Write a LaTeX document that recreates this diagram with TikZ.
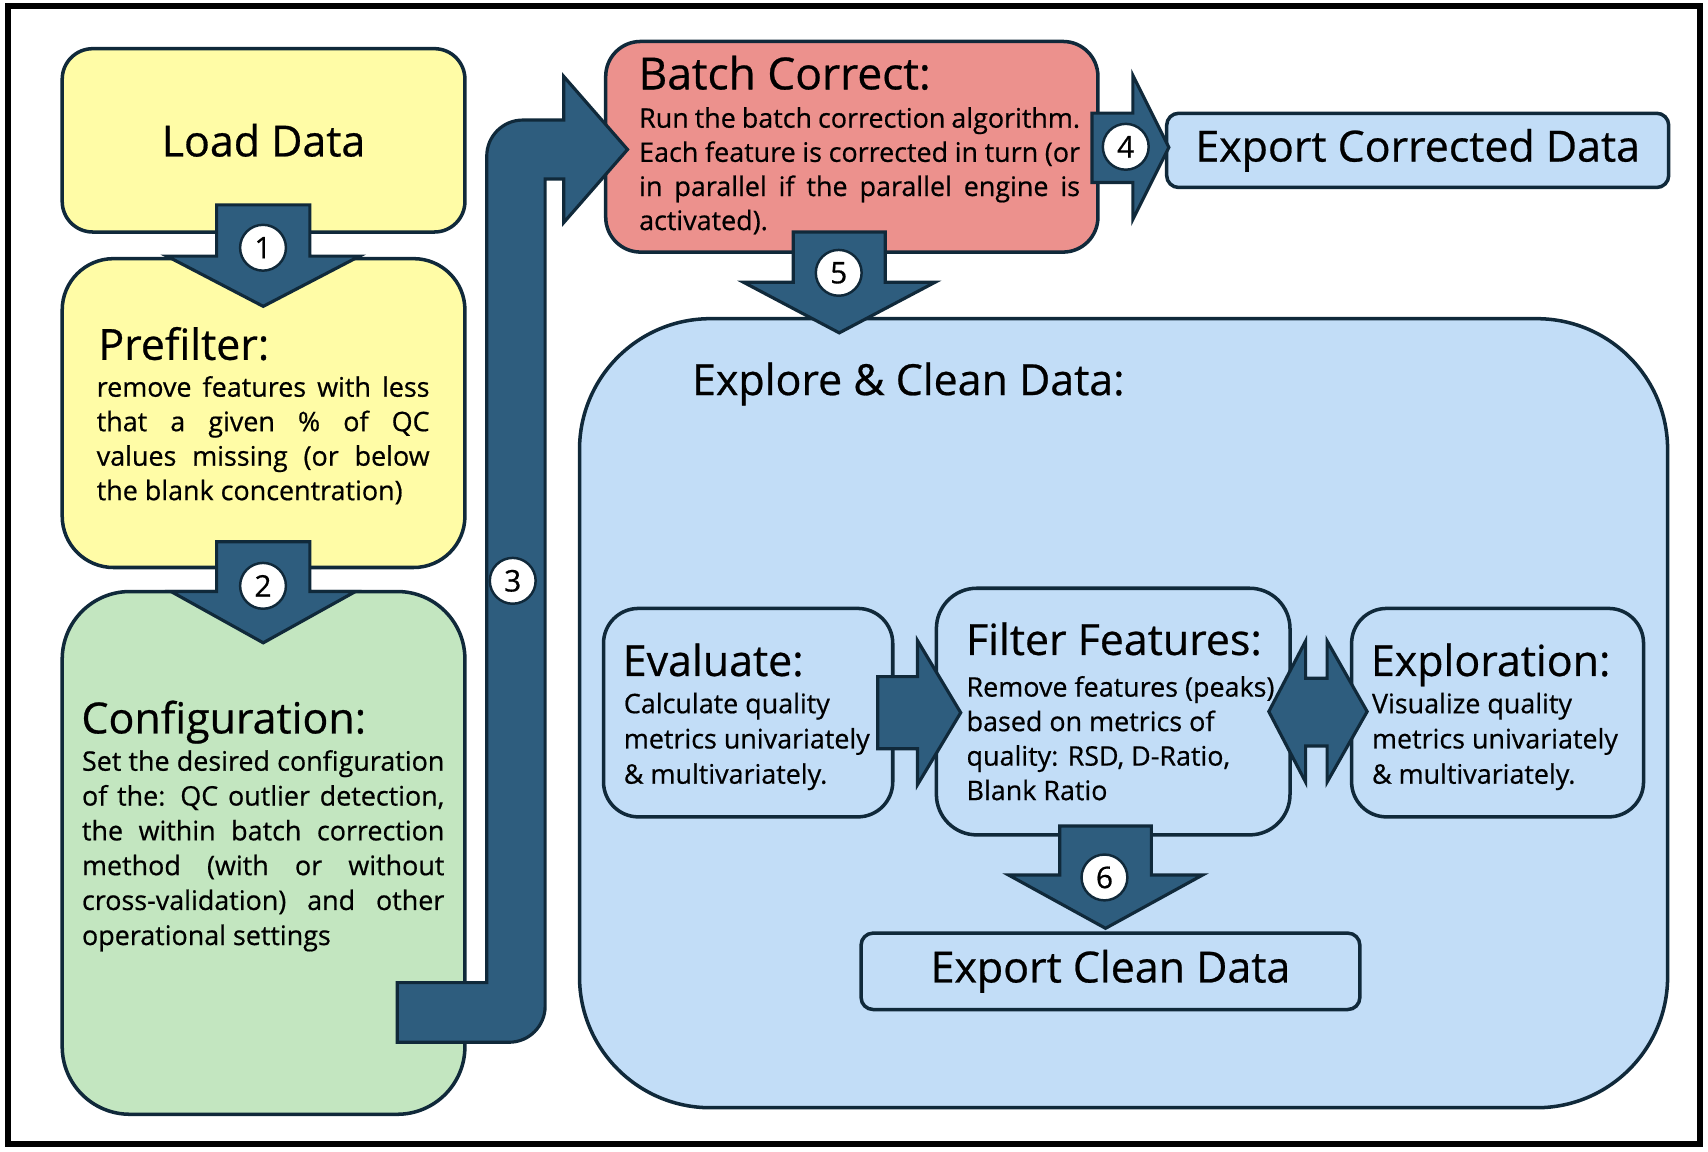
\documentclass[tikz,border=0pt]{standalone}
\usepackage{fontspec}
\setmainfont{Open Sans}[FakeBold=0.6]
\usetikzlibrary{positioning}
\usetikzlibrary{calc}
\definecolor{boxline}{HTML}{10293A}
\definecolor{arrowfill}{HTML}{2E5D7E}
\definecolor{loadyellow}{HTML}{FFFCA6}
\definecolor{configgreen}{HTML}{C3E6C0}
\definecolor{batchred}{HTML}{EC918D}
\definecolor{exploreblue}{HTML}{C2DDF7}
\def\px{0.010914cm}
\newcommand{\titlefont}{\fontsize{12.2}{14}\selectfont}
\newcommand{\bodyfont}{\fontsize{7.65}{9.5}\selectfont}
\tikzstyle{box}=[draw=boxline, line width=1pt, inner sep=0pt]
\tikzstyle{blockarrow}=[draw=boxline, fill=arrowfill, line width=0.9pt, line join=miter]
\tikzstyle{numdot}=[circle, draw=boxline, fill=white, line width=0.7pt, minimum size={42*\px}, inner sep=0pt, font=\fontsize{8.5}{9}\selectfont]
\tikzstyle{title}=[font=\titlefont, inner sep=0pt, anchor=base west]
\tikzstyle{body}=[font=\bodyfont, inner sep=0pt, anchor=base west]

\begin{document}
\begin{tikzpicture}[x=\px, y=-\px]
\useasboundingbox (0,0) rectangle (1565,1055.5);
\draw[line width=1.7pt] (7,5.7) rectangle (1558,1048);

% boxes
\node[box, fill=loadyellow, rounded corners=28*\px, minimum width={369*\px}, minimum height={168*\px}, font=\titlefont] (load) at (241.5,128.6) {Load Data};
\node[box, fill=loadyellow, rounded corners=47*\px, minimum width={369*\px}, minimum height={283*\px}] (pre) at (241.5,378.5) {};
\node[box, fill=configgreen, rounded corners=62*\px, minimum width={369*\px}, minimum height={479*\px}] (config) at (241.5,781.5) {};
\node[box, fill=batchred, rounded corners=32*\px, minimum width={451*\px}, minimum height={193*\px}] (batch) at (780.5,134.5) {};
\node[box, fill=exploreblue, rounded corners=11*\px, minimum width={460*\px}, minimum height={68*\px}, font=\titlefont] (expcor) at (1299,137.8) {Export Corrected Data};
\node[box, fill=exploreblue, rounded corners=120*\px, minimum width={997*\px}, minimum height={723*\px}] (explore) at (1029.5,653.5) {};

\foreach \name/\x/\y/\w/\h/\r in {eval/685.5/653/265/191/32, filter/1020/652/324/226/37, explo/1372.2/653/267.5/191/32}
  \node[box, fill=exploreblue, rounded corners=\r*\px, minimum width={\w*\px}, minimum height={\h*\px}] (\name) at (\x,\y) {};
\node[box, fill=exploreblue, rounded corners=11*\px, minimum width={457*\px}, minimum height={70*\px}, font=\titlefont] (expclean) at (1017.5,890) {Export Clean Data};

% block arrows
\foreach \cx/\yt/\yn/\yp/\sw/\hw in {241.2/187.7/234.7/280.7/42.7/88.3, 241.2/496.4/542/589/42.7/84.5, 769/212.6/258.6/305/42.2/87.8, 1013/756.8/801.7/850.6/42/89}
  \draw[blockarrow] ({\cx-\sw},\yt) -- ({\cx+\sw},\yt) -- ({\cx+\sw},\yn) -- ({\cx+\hw},\yn) -- (\cx,\yp) -- ({\cx-\hw},\yn) -- ({\cx-\sw},\yn) -- cycle;

\draw[blockarrow] (364,955) -- (364,900.4) -- (446,900.4) -- (446,143) .. controls (446,124.8) and (460.8,110) .. (479,110) -- (516.5,110) -- (516.5,70) -- (575,137) -- (516.5,204) -- (516.5,164) -- (499.5,164) -- (499.5,922) .. controls (499.5,940.2) and (484.7,955) .. (466.5,955) -- cycle;
\draw[blockarrow] (1000.5,103.7) -- (1038,103.7) -- (1038,69) -- (1071,135) -- (1038,201) -- (1038,167.2) -- (1000.5,167.2) -- cycle;
\draw[blockarrow] (804.2,620) -- (840.7,620) -- (840.7,587) -- (880.3,653) -- (840.7,719) -- (840.7,686) -- (804.2,686) -- cycle;
\draw[blockarrow] (1162.6,652) -- (1196.3,587.4) -- (1196.3,621.5) -- (1216,621.5) -- (1216,587.4) -- (1252.7,652) -- (1216,716.6) -- (1216,683.5) -- (1196.3,683.5) -- (1196.3,716.6) -- cycle;

\foreach \x/\y/\n in {241/227/1, 241/536.8/2, 469.8/532.2/3, 1031.5/134.5/4, 768.5/250/5, 1012/804/6}
  \node[numdot] (n\n) at (\x,\y) {\n};

% texts
\node[title] (preT) at (89.5,329.7) {Prefilter:};
\foreach \i/\txt in {0/{remove features with less}, 1/{that a given \% of QC}, 2/{values missing (or below}}
  \node[body] (preL\i) at (88,{363.5+31.6*\i}) {\makebox[\dimexpr\px*305\relax][s]{\txt}};
\node[body] (preL3) at (88,458.3) {the blank concentration)};

\node[title] (configT) at (74,672) {Configuration:};
\foreach \i/\txt in {0/{Set the desired configuration}, 1/{of the: QC outlier detection,}, 2/{the within batch correction}, 3/{method (with or without}, 4/{cross-validation) and other}}
  \node[body] (configL\i) at (74.5,{706.2+31.9*\i}) {\makebox[\dimexpr\px*332\relax][s]{\txt}};
\node[body] (configL5) at (74.5,865.9) {operational settings};

\node[title] (batchT) at (584.5,81.9) {\fontsize{12.6}{14}\selectfont Batch Correct:};
\foreach \i/\txt in {0/{Run the batch correction algorithm.}, 1/{Each feature is corrected in turn (or}, 2/{in parallel if the parallel engine is}}
  \node[body] (batchL\i) at (585,{117+31.3*\i}) {\makebox[\dimexpr\px*404\relax][s]{\txt}};
\node[body] (batchL3) at (585,210.8) {activated).};

\node[title] (exploreT) at (633.5,362) {Explore \& Clean Data:};

\node[title] (evalT) at (570,619.4) {Evaluate:};
\foreach \i/\txt in {0/{Calculate quality}, 1/{metrics univariately}, 2/{\& multivariately.}}
  \node[body] (evalL\i) at (571,{653.5+32.3*\i}) {\txt};

\node[title] (filterT) at (884.5,600.1) {Filter Features:};
\foreach \i/\txt in {0/{Remove features (peaks)}, 1/{based on metrics of}, 2/{quality: RSD, D-Ratio,}, 3/{Blank Ratio}}
  \node[body] (filterL\i) at (885,{638.3+31.6*\i}) {\txt};

\node[title] (exploT) at (1255.5,619.4) {Exploration:};
\foreach \i/\txt in {0/{Visualize quality}, 1/{metrics univariately}, 2/{\& multivariately.}}
  \node[body] (exploL\i) at (1256.5,{653.5+32.3*\i}) {\txt};

\end{tikzpicture}
\end{document}
